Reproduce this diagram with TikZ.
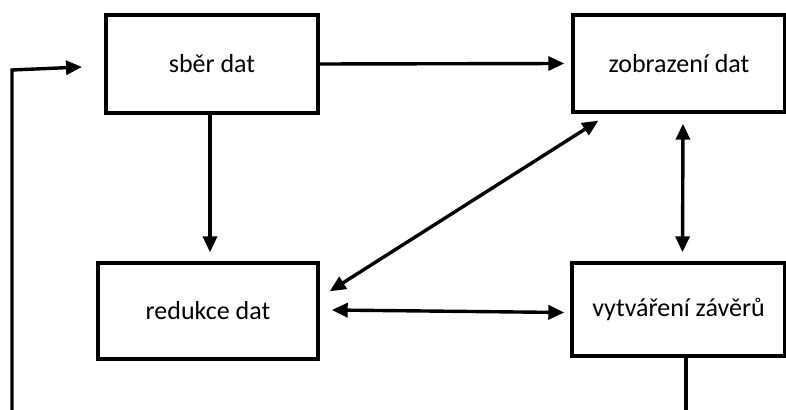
\documentclass[tikz,border=0pt]{standalone}
\usepackage{fontspec}
\setmainfont{Carlito}
\usetikzlibrary{arrows.meta,calc}
\begin{document}
\begin{tikzpicture}[x=0.5pt,y=-0.5pt,
  stagebox/.style={draw,line width=1.7pt,rectangle,inner sep=0pt,
    font=\fontsize{13}{15}\selectfont},
  tip/.style={Triangle[length=8pt,width=7pt]},
  link/.style={line width=1.7pt,-{Triangle[length=8pt,width=7pt]}},
  dlink/.style={line width=1.7pt,{Triangle[length=8pt,width=7pt]}-{Triangle[length=8pt,width=7pt]}},
  plain/.style={line width=1.7pt}]
\useasboundingbox (0,0) rectangle (786,410);
% process stages
\node[stagebox,minimum width=106pt,minimum height=49pt] (sber) at (212,64) {sběr dat};
\node[stagebox,minimum width=106pt,minimum height=48.5pt] (zobr) at (679,63.5) {zobrazení dat};
\node[stagebox,minimum width=110pt,minimum height=48pt] (redu) at (208,311) {redukce dat};
\node[stagebox,minimum width=106.5pt,minimum height=46.5pt] (vytv) at (678.5,309.5) {vytváření závěrů};
% feedback loop on the left
\coordinate (loopstart) at (12,410);
\coordinate (loopcorner) at (12,70);
\coordinate (looptip) at (82,67);
\draw[link] (loopstart) -- (loopcorner) -- (looptip);
% forward flow
\draw[link,shorten >=3.5pt] (sber.east) -- (zobr.west);
\draw[link] ([shift={(-2,0)}]sber.south) -- ([shift={(2,-9)}]redu.north);
% mutual relations
\draw[dlink] ([shift={(27,7)}]zobr.south west) -- ([shift={(10,30)}]redu.north east);
\draw[dlink] ([shift={(4,10)}]zobr.south) -- ([shift={(4,-9)}]vytv.north);
\draw[dlink] ([shift={(12,-1)}]redu.east) -- ([shift={(-6,3)}]vytv.west);
% outgoing line at the bottom
\coordinate (bottomend) at (686,410);
\draw[plain] ([shift={(7.5,0)}]vytv.south) -- (bottomend);
\end{tikzpicture}
\end{document}
